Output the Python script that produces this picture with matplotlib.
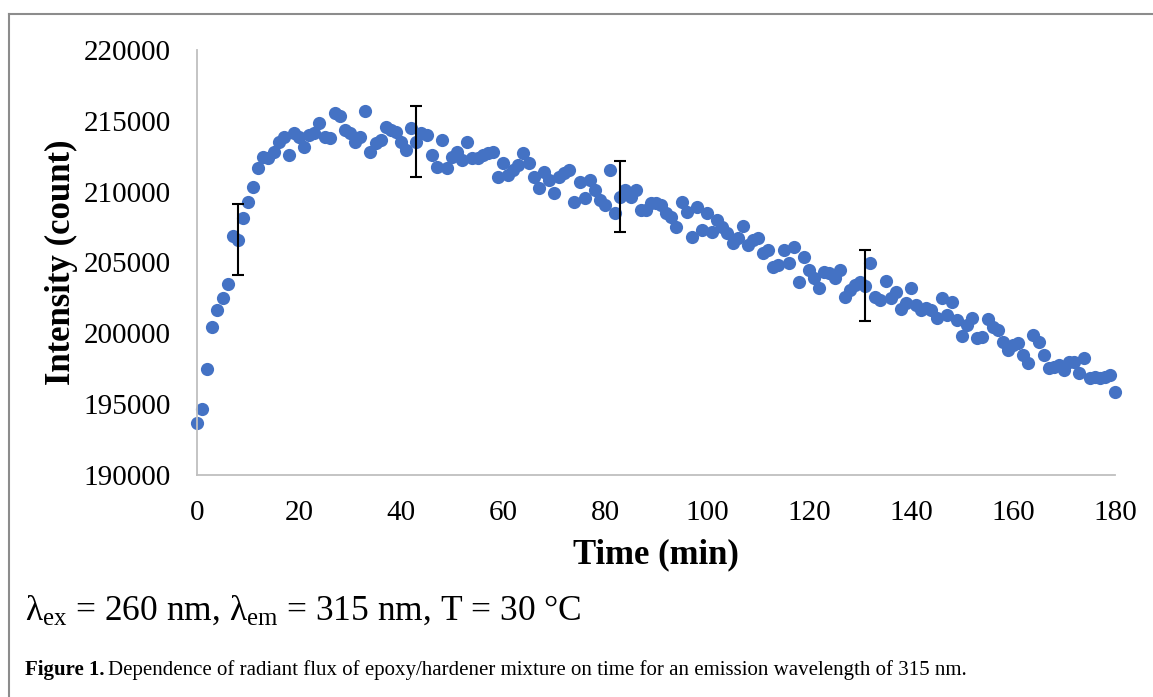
import numpy as np
import matplotlib.pyplot as plt
from matplotlib.lines import Line2D

plt.rcParams['font.family'] = ['Liberation Serif', 'DejaVu Serif']
plt.rcParams['mathtext.fontset'] = 'custom'
plt.rcParams['mathtext.rm'] = 'Liberation Serif'

# time in minutes, one reading per minute
time_min = np.arange(0, 181)

# intensity (count)
intensity = [
    193670, 194650, 197480, 200440, 201640, 202490, 203480, 206870, 206600, 208140,
    209270, 210330, 211670, 212450, 212370, 212800, 213500, 213860, 212590, 214140,
    213860, 213150, 214000, 214140, 214850, 213860, 213790, 215550, 215340, 214350,
    214140, 213500, 213860, 215690, 212800, 213430, 213650, 214560, 214350, 214210,
    213500, 212940, 214490, 213530, 214140, 214000, 212590, 211740, 213650, 211670,
    212450, 212800, 212230, 213500, 212380, 212380, 212590, 212730, 212800, 211030,
    212020, 211180, 211530, 211880, 212730, 212020, 211030, 210260, 211390, 210820,
    209900, 211030, 211320, 211530, 209270, 210680, 209550, 210820, 210120, 209410,
    209060, 211530, 208490, 209650, 210120, 209620, 210120, 208700, 208700, 209200,
    209200, 209060, 208490, 208210, 207500, 209270, 208560, 206800, 208920, 207290,
    208490, 207150, 208000, 207500, 207080, 206370, 206730, 207570, 206230, 206590,
    206730, 205670, 205880, 204680, 204820, 205880, 204960, 206090, 203620, 205390,
    204470, 203900, 203200, 204330, 204260, 203900, 204470, 202560, 203060, 203410,
    203620, 203350, 204960, 202560, 202350, 203690, 202490, 202910, 201710, 202140,
    203200, 202000, 201640, 201790, 201640, 201080, 202490, 201290, 202210, 200940,
    199810, 200590, 201080, 199670, 199740, 201010, 200440, 200230, 199390, 198820,
    199170, 199310, 198470, 197900, 199880, 199390, 198470, 197550, 197620, 197760,
    197410, 197970, 197970, 197200, 198260, 196840, 196910, 196840, 196910, 197050,
    195850,
]

# error bars shown at a few times only
err_times = [8, 43, 83, 131]
err_size = 2500

fig = plt.figure(figsize=(11.53, 6.97), dpi=100)
ax = fig.add_axes([0.1709, 0.3185, 0.7962, 0.6098])

ax.plot(time_min, intensity, 'o', color='#4472C4', markersize=9.5,
        markeredgewidth=0, zorder=2, clip_on=False)

err_vals = [intensity[t] for t in err_times]
ax.errorbar(err_times, err_vals, yerr=err_size, fmt='none', ecolor='black',
            elinewidth=1.5, capsize=4, capthick=1.5, zorder=3)

ax.set_xlim(0, 180)
ax.set_ylim(190000, 220000)
ax.set_xticks(range(0, 181, 20))
ax.set_yticks(range(190000, 220001, 5000))

for s in ['top', 'right']:
    ax.spines[s].set_visible(False)
for s in ['left', 'bottom']:
    ax.spines[s].set_color('#BFBFBF')
    ax.spines[s].set_linewidth(1.3)

ax.tick_params(axis='both', length=0, labelsize=21)
ax.tick_params(axis='y', pad=19)
ax.tick_params(axis='x', pad=18)

ax.set_xlabel('Time (min)', fontsize=25, fontweight='bold', labelpad=9)
ax.set_ylabel('Intensity (count)', fontsize=25, fontweight='bold', labelpad=4)

fig.text(25 / 1153, 1 - 620 / 697,
         r'$\mathregular{\lambda_{ex}}$ = 260 nm, $\mathregular{\lambda_{em}}$ = 315 nm, T = 30 °C',
         fontsize=25.5, ha='left', va='baseline')

cap = fig.text(25 / 1153, 1 - 675 / 697, 'Figure 1.', fontsize=15,
               fontweight='bold', ha='left', va='baseline')
fig.canvas.draw()
bb = cap.get_window_extent()
fig.text((bb.x1 + 3) / 1153, 1 - 675 / 697,
         'Dependence of radiant flux of epoxy/hardener mixture on time for an emission wavelength of 315 nm.',
         fontsize=15, ha='left', va='baseline')

# frame around the chart (only top and left visible)
fig.add_artist(Line2D([9 / 1153, 9 / 1153], [0, 1 - 14 / 697],
                      transform=fig.transFigure, color='#8C8C8C', lw=1.5))
fig.add_artist(Line2D([9 / 1153, 1], [1 - 14 / 697, 1 - 14 / 697],
                      transform=fig.transFigure, color='#8C8C8C', lw=1.5))

fig.savefig('out.png', dpi=100)
